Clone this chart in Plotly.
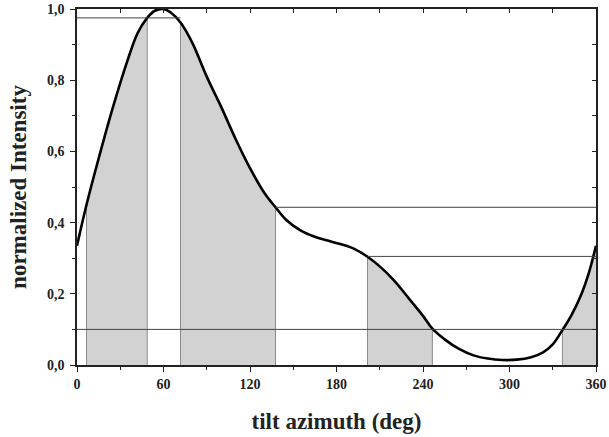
import plotly.graph_objects as go

# ---- data ----
azimuth = [0, 6.6, 15, 25, 35, 42, 48.7, 54, 60, 65, 71.8, 80, 90, 100, 110, 120, 130,
           137.7, 145, 155, 165, 175, 185, 193, 201.5, 210, 220, 230, 240, 246.5, 255,
           265, 275, 285, 295, 305, 315, 323, 330, 336.7, 343, 350, 355, 360]
intensity = [0.335, 0.45, 0.58, 0.725, 0.855, 0.932, 0.975, 0.995, 1.0, 0.99, 0.962,
             0.905, 0.81, 0.725, 0.635, 0.553, 0.483, 0.443, 0.408, 0.378, 0.36, 0.348,
             0.337, 0.325, 0.304, 0.277, 0.237, 0.188, 0.138, 0.102, 0.072, 0.045,
             0.027, 0.018, 0.014, 0.015, 0.022, 0.035, 0.058, 0.098, 0.14, 0.2, 0.258,
             0.335]

# shaded azimuth windows (start, end)
region_start = [6.6, 71.8, 201.5, 336.7]
region_end = [48.7, 137.7, 246.5, 360]

# horizontal reference levels (level, from, to)
level_value = [0.1, 0.975, 0.443, 0.305]
level_from = [0, 0, 137.7, 201.5]
level_to = [360, 71.8, 360, 360]

x_tickvals = [0, 60, 120, 180, 240, 300, 360]
x_ticktext = ["0", "60", "120", "180", "240", "300", "360"]
y_tickvals = [0.0, 0.2, 0.4, 0.6, 0.8, 1.0]
y_ticktext = ["0,0", "0,2", "0,4", "0,6", "0,8", "1,0"]

FILL = "#d2d2d2"
EDGE = "#8c8c8c"
FONT = "Liberation Serif"

fig = go.Figure()

# shaded regions
for a, b in zip(region_start, region_end):
    xs = [x for x in azimuth if a <= x <= b]
    ys = [y for x, y in zip(azimuth, intensity) if a <= x <= b]
    fig.add_trace(go.Scatter(x=xs, y=ys, mode="lines", fill="tozeroy",
                             fillcolor=FILL, line=dict(color=FILL, width=0, shape="spline"),
                             hoverinfo="skip", showlegend=False))

# vertical boundary lines
for a, b in zip(region_start, region_end):
    for edge in (a, b):
        if edge >= 360:
            continue
        v = intensity[azimuth.index(edge)]
        fig.add_trace(go.Scatter(x=[edge, edge], y=[0, v], mode="lines",
                                 line=dict(color=EDGE, width=1),
                                 hoverinfo="skip", showlegend=False))

# horizontal reference lines (on the mirrored axes, identical ranges)
for lv, x0, x1 in zip(level_value, level_from, level_to):
    fig.add_trace(go.Scatter(x=[x0, x1], y=[lv, lv], mode="lines",
                             xaxis="x2", yaxis="y2",
                             line=dict(color="#444444", width=1),
                             hoverinfo="skip", showlegend=False))

# main curve
fig.add_trace(go.Scatter(x=azimuth, y=intensity, mode="lines",
                         line=dict(color="black", width=2.6, shape="spline"),
                         showlegend=False))

fig.update_layout(
    width=609, height=437,
    margin=dict(l=77, r=13, t=9, b=72),
    plot_bgcolor="white", paper_bgcolor="white",
    font=dict(family=FONT, color="#222222"),
    xaxis=dict(range=[0, 360], tickvals=x_tickvals, ticktext=x_ticktext,
               ticks="outside", ticklen=5, tickwidth=1.2, tickcolor="#222",
               minor=dict(dtick=30, tick0=0, ticks="outside", ticklen=3, tickcolor="#222"),
               showline=True, linecolor="#222", linewidth=1.5, mirror=True,
               showgrid=False, zeroline=False, automargin=False,
               tickfont=dict(size=14, family=FONT, weight="bold"),
               title=dict(text="tilt azimuth (deg)", standoff=22,
                          font=dict(size=23, family=FONT, weight="bold"))),
    yaxis=dict(range=[0, 1.0], tickvals=y_tickvals, ticktext=y_ticktext,
               ticks="outside", ticklen=5, tickwidth=1.2, tickcolor="#222",
               minor=dict(dtick=0.1, tick0=0, ticks="outside", ticklen=3, tickcolor="#222"),
               showline=True, linecolor="#222", linewidth=1.5, mirror=True,
               showgrid=False, zeroline=False, automargin=False, ticklabelstandoff=3,
               tickfont=dict(size=14, family=FONT, weight="bold"),
               title=dict(text="normalized Intensity", standoff=14,
                          font=dict(size=23, family=FONT, weight="bold"))),
    xaxis2=dict(range=[0, 360], overlaying="x", side="top", showticklabels=False,
                tickvals=[30 * i for i in range(1, 12)], ticks="inside", ticklen=4,
                tickcolor="#222", showgrid=False, zeroline=False, showline=False,
                automargin=False),
    yaxis2=dict(range=[0, 1.0], overlaying="y", side="right", showticklabels=False,
                tickvals=[0.1 * i for i in range(1, 10)], ticks="inside", ticklen=4,
                tickcolor="#222", showgrid=False, zeroline=False, showline=False,
                automargin=False),
)

fig.write_html("out.html",
               config={"displayModeBar": False},
               post_script="document.body.style.margin='0';document.body.style.overflow='hidden';")
